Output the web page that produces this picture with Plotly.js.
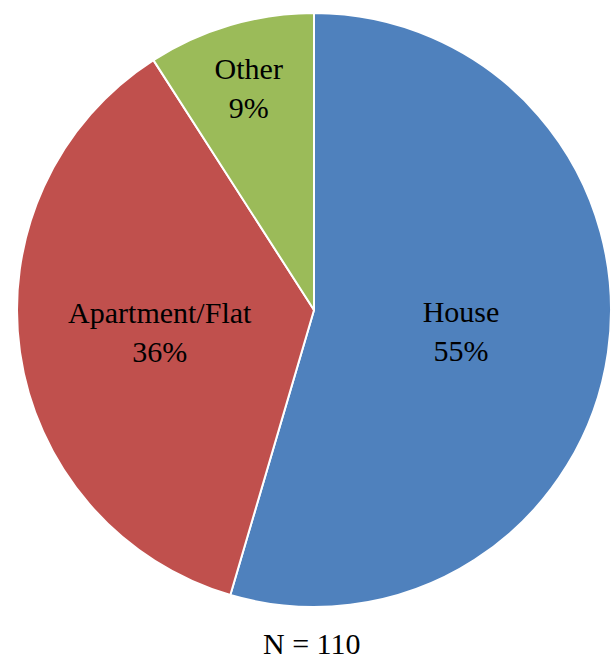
<!DOCTYPE html>
<html>
<head>
<meta charset="utf-8">
<script src="https://cdn.plot.ly/plotly-3.0.1.min.js"></script>
<style>html,body{margin:0;padding:0;background:#fff;overflow:hidden}#chart{width:611px;height:662px}</style>
</head>
<body>
<div id="chart"></div>
<script>
const categories = ["House", "Apartment/Flat", "Other"];
const counts = [60, 40, 10];
const colors = ["#4F81BD", "#C0504D", "#9BBB59"];
const footnote = "N = 110";

const SERIF = "Liberation Serif";

const trace = {
  type: "pie",
  labels: categories,
  values: counts,
  sort: false,
  direction: "clockwise",
  rotation: 0,
  marker: {colors: colors, line: {color: "#ffffff", width: 2}},
  texttemplate: "%{label}<br>%{percent:.0%}",
  textposition: "inside",
  insidetextorientation: "horizontal",
  textfont: {family: SERIF, size: 30, color: "#000000"},
  hoverinfo: "label+percent",
  domain: {x: [17/611, 1], y: [1 - 607/662, 1 - 13/662]},
  showlegend: false
};

const layout = {
  width: 611,
  height: 662,
  margin: {l: 0, r: 0, t: 0, b: 0},
  paper_bgcolor: "#ffffff",
  showlegend: false,
  font: {family: SERIF},
  annotations: [{
    text: footnote,
    xref: "paper", yref: "paper",
    x: 0.51, y: 0.0, xanchor: "center", yanchor: "bottom",
    showarrow: false,
    font: {family: SERIF, size: 30, color: "#000000"}
  }]
};

Plotly.newPlot("chart", [trace], layout, {displayModeBar: false, staticPlot: true});
</script>
</body>
</html>
